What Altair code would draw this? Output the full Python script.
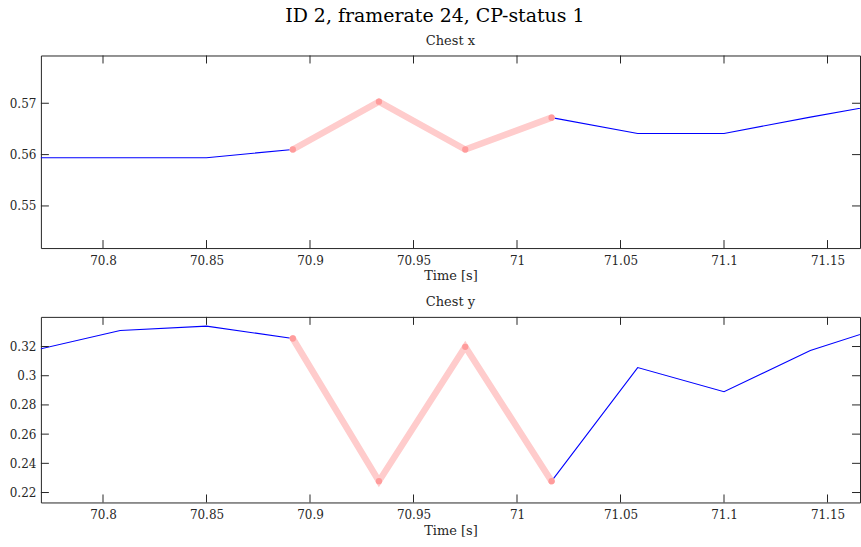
import altair as alt
import pandas as pd

# ---- data ----
time_s = [70.7667, 70.8083, 70.85, 70.8917, 70.9333, 70.975, 71.0167,
          71.0583, 71.1, 71.1417, 71.1833]
chest_x = [0.5594, 0.5594, 0.5594, 0.5610, 0.5703, 0.5610, 0.5672,
           0.5641, 0.5641, 0.5673, 0.5703]
chest_y = [0.3174, 0.3310, 0.3340, 0.3255, 0.2278, 0.3198, 0.2278,
           0.3056, 0.2890, 0.3173, 0.3363]
flag_start, flag_end = 3, 6  # highlighted (red) stretch, inclusive

x_ticks = [70.8, 70.85, 70.9, 70.95, 71.0, 71.05, 71.1, 71.15]
y_ticks_x = [0.55, 0.56, 0.57]
y_ticks_y = [0.22, 0.24, 0.26, 0.28, 0.30, 0.32]

x_domain = [70.770, 71.1657]
y_domain_x = [0.5418, 0.5793]
y_domain_y = [0.2132, 0.3403]

FONT = "DejaVu Serif"
AXC = "#262626"
W = 821
TL = 8


def segments(values):
    rows = []
    for i, (t, v) in enumerate(zip(time_s, values)):
        if i <= flag_start:
            rows.append({"t": t, "v": v, "seg": "blue_a"})
        if i >= flag_end:
            rows.append({"t": t, "v": v, "seg": "blue_b"})
        if flag_start <= i <= flag_end:
            rows.append({"t": t, "v": v, "seg": "red"})
    return pd.DataFrame(rows)


def panel(values, ydom, yticks, title, height):
    df = segments(values)
    xs = alt.Scale(domain=x_domain, nice=False, zero=False)
    ys = alt.Scale(domain=ydom, nice=False, zero=False)
    xax = alt.Axis(values=x_ticks, format="~g", ticks=False, domain=False, grid=False,
                   labelFont=FONT, labelFontSize=12, labelColor="#262626",
                   labelPadding=7, labelOverlap=False, labelFlush=False,
                   title="Time [s]", titleFont=FONT,
                   titleFontSize=13, titleFontWeight="normal", titleColor="#262626",
                   titlePadding=4)
    yax = alt.Axis(values=yticks, format="~g", ticks=False, domain=False, grid=False,
                   labelFont=FONT, labelFontSize=12, labelColor="#262626",
                   labelPadding=5, labelOverlap=False, labelFlush=False, title=None)
    X = lambda f: alt.X(f, scale=xs, axis=xax)
    Y = lambda f: alt.Y(f, scale=ys, axis=yax)

    base = alt.Chart(df)
    blue = base.transform_filter(alt.datum.seg != "red").mark_line(
        color="#0000ff", strokeWidth=1.1, clip=True).encode(
        x=X("t:Q"), y=Y("v:Q"), detail="seg:N")
    red = base.transform_filter(alt.datum.seg == "red").mark_line(
        color="#ffcccc", strokeWidth=6.5, clip=True, strokeCap="round").encode(
        x=X("t:Q"), y=Y("v:Q"))
    pts = base.transform_filter(alt.datum.seg == "red").mark_circle(
        color="#ff9c9c", opacity=1, size=40, clip=True).encode(
        x=X("t:Q"), y=Y("v:Q"))

    xt = alt.Chart(pd.DataFrame({"t": x_ticks}))
    yt = alt.Chart(pd.DataFrame({"v": yticks}))
    xb = xt.mark_rule(color=AXC, strokeWidth=1).encode(
        x=X("t:Q"), y=alt.value(height), y2=alt.value(height - TL))
    xtp = xt.mark_rule(color=AXC, strokeWidth=1).encode(
        x=X("t:Q"), y=alt.value(0), y2=alt.value(TL))
    yl = yt.mark_rule(color=AXC, strokeWidth=1).encode(
        y=Y("v:Q"), x=alt.value(0), x2=alt.value(TL))
    yr = yt.mark_rule(color=AXC, strokeWidth=1).encode(
        y=Y("v:Q"), x=alt.value(W), x2=alt.value(W - TL))

    return alt.layer(blue, red, pts, xb, xtp, yl, yr).properties(
        width=W, height=height,
        view=alt.ViewBackground(stroke=AXC, strokeWidth=1),
        title=alt.TitleParams(title, font=FONT, fontSize=13, fontWeight="normal",
                              color="#262626", anchor="middle", offset=7))


top = panel(chest_x, y_domain_x, y_ticks_x, "Chest x", 193)
bottom = panel(chest_y, y_domain_y, y_ticks_y, "Chest y", 186)

chart = alt.vconcat(top, bottom, spacing=12).properties(
    title=alt.TitleParams("ID 2, framerate 24, CP-status 1", font=FONT, fontSize=19,
                          fontWeight="normal", color="#000000", anchor="middle",
                          offset=9),
    padding={"left": 8, "top": 6, "right": 0, "bottom": 0},
).configure_view(stroke=AXC, strokeWidth=1).configure(background="white")

chart.save("out.html", embed_options={"renderer": "svg", "actions": False})
